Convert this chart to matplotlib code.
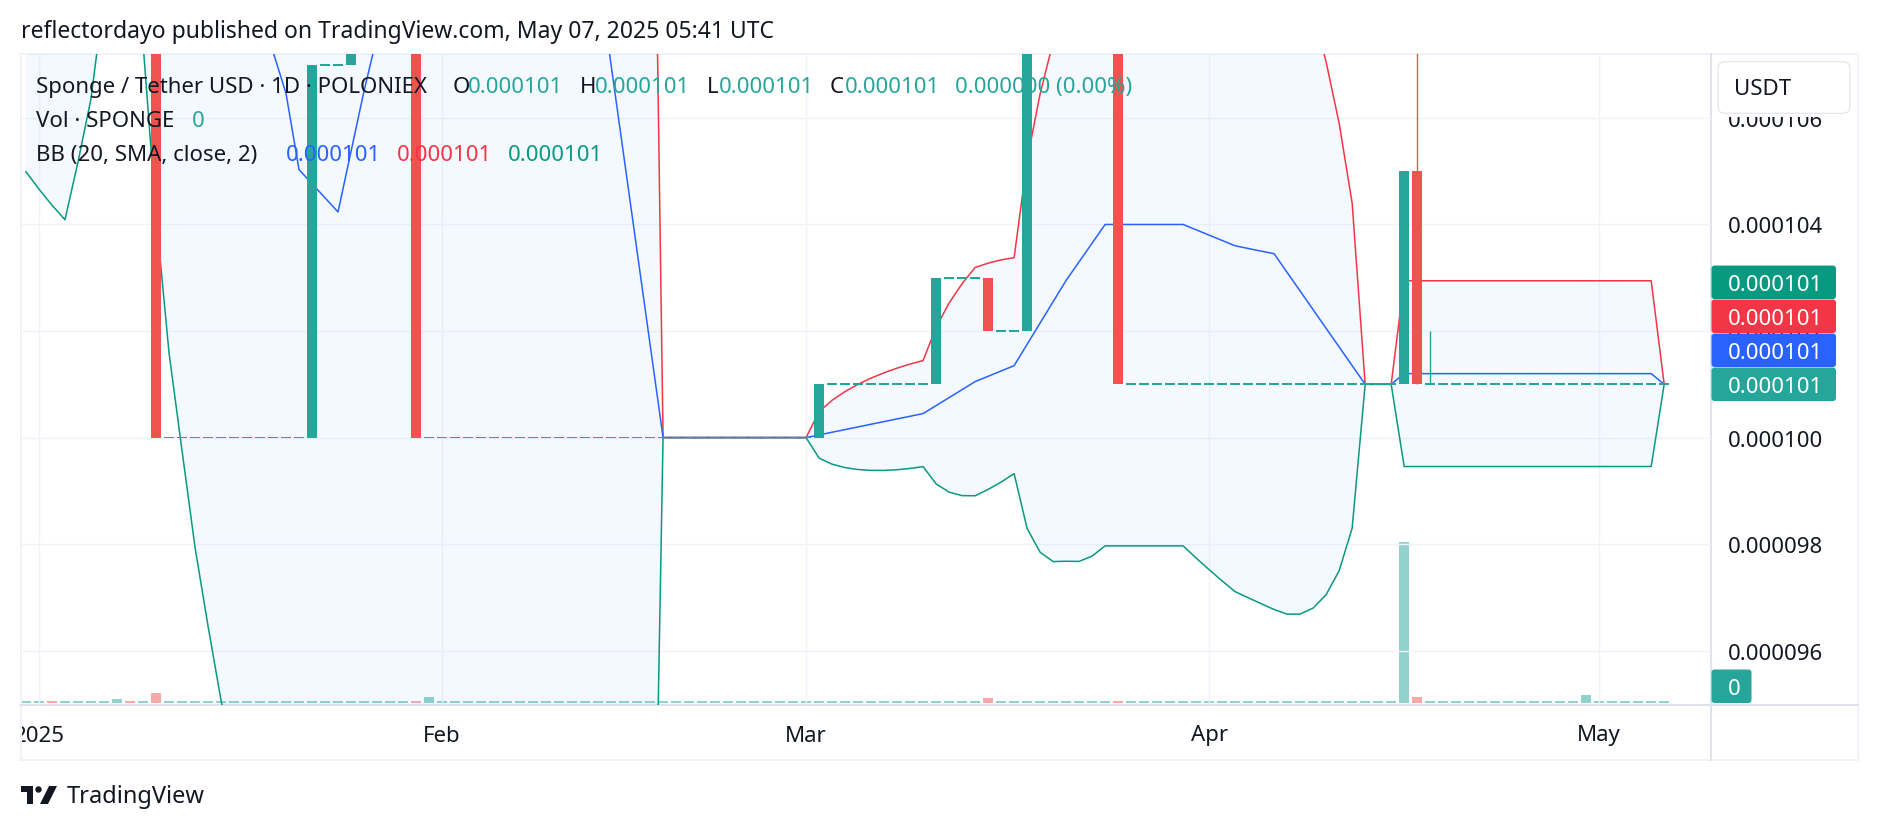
import numpy as np
import pandas as pd
import matplotlib
matplotlib.use("Agg")
import matplotlib.pyplot as plt
import matplotlib.transforms as mtransforms
from matplotlib.patches import FancyBboxPatch, Polygon, Circle, Rectangle
from matplotlib.lines import Line2D

plt.rcParams['font.family'] = ['Noto Sans', 'DejaVu Sans']

# ---------------- data ----------------
# daily closes (USDT) as (close, number of consecutive days), starting 2024-12-12
first_day = "2024-12-12"
close_runs = [
    (0.0001081, 1), (0.0001171, 1), (0.0001167, 1), (0.0001058, 2), (0.0001040, 1),
    (0.0001168, 3), (0.0001156, 1), (0.0001171, 1), (0.0001100, 1), (0.0001202, 1),
    (0.0001206, 1), (0.0001171, 1), (0.0001166, 3), (0.0001157, 2),          # Dec 2024
    (0.0001286, 1), (0.0001123, 5), (0.0001145, 1), (0.0001123, 2),          # Jan 1-9
    (0.0001000, 12), (0.0001070, 3), (0.0001350, 5), (0.0001000, 31),        # Jan 10 - Mar 1
    (0.0001010, 9), (0.0001030, 4), (0.0001020, 3), (0.0001080, 7),          # Mar 2 - Mar 24
    (0.0001010, 22), (0.0001050, 1), (0.0001010, 20),                        # Mar 25 - May 6
]
wick_highs = {"2025-04-17": 0.000112, "2025-04-18": 0.000102}

volume_start = "2024-12-31"
volume_end = "2025-05-06"
volume_spikes = {"2025-01-07": 4.3, "2025-01-10": 10, "2025-01-31": 6, "2025-03-15": 5.3,
                 "2025-04-16": 161, "2025-04-17": 6, "2025-04-30": 7.7}

price_ticks = [0.000096, 0.000098, 0.000100, 0.000102, 0.000104, 0.000106]
month_ticks = ["2025-01-01", "2025-02-01", "2025-03-01", "2025-04-01", "2025-05-01"]
month_labels = ["2025", "Feb", "Mar", "Apr", "May"]

title = "reflectordayo published on TradingView.com, May 07, 2025 05:41 UTC"
symbol = "Sponge / Tether USD · 1D · POLONIEX"

# ---------------- computations ----------------
closes = np.concatenate([np.repeat(v, n) for v, n in close_runs])
dates = pd.date_range(first_day, periods=len(closes), freq="D")
opens = np.r_[closes[0], closes[:-1]]
highs = np.maximum(opens, closes)
lows = np.minimum(opens, closes)
for d, h in wick_highs.items():
    highs[dates.get_loc(pd.Timestamp(d))] = h
s = pd.Series(closes, index=dates)
basis = s.rolling(20).mean()
sd = s.rolling(20).std(ddof=0)
upper = basis + 2 * sd
lower = basis - 2 * sd

vdates = pd.date_range(volume_start, volume_end, freq="D")
volume = pd.Series(0.0, index=vdates)
for d, v in volume_spikes.items():
    volume[pd.Timestamp(d)] = v

UP, DOWN = "#26a69a", "#ef5350"
UPV, DOWNV = "#92d2cc", "#f7a9a7"
TXT = "#131722"
BLUE, RED, GREEN = "#2962FF", "#F23645", "#089981"
GRID = "#f0f3fa"
SEP = "#e0e3eb"

W, H, DPI = 1878, 830, 100
fig = plt.figure(figsize=(W / DPI, H / DPI), dpi=DPI)
fig.patch.set_facecolor("white")
ID = mtransforms.IdentityTransform()

L0, R0, T0, B0 = 20, 1711, 54, 705


def fbox(x0, y0, x1, y1):
    return [x0 / W, 1 - y1 / H, (x1 - x0) / W, (y1 - y0) / H]


axv = fig.add_axes(fbox(L0, T0, R0, B0))
ax = fig.add_axes(fbox(L0, T0, R0, B0), sharex=axv)
ax.patch.set_visible(False)
ax.set_zorder(2)
axv.set_zorder(1)

ymin, ymax = 0.00009498, 0.00010720
jan1 = pd.Timestamp("2025-01-01")
ax.set_xlim(jan1 - pd.Timedelta(days=1.46), jan1 + pd.Timedelta(days=128.6))
ax.set_ylim(ymin, ymax)
ax.set_axis_off()
axv.set_axis_off()

# grid
for t in price_ticks:
    ax.axhline(t, color=GRID, lw=1.0, zorder=0)
for m in month_ticks:
    ax.axvline(pd.Timestamp(m), color=GRID, lw=1.0, zorder=0)

# volume
vcl = s.reindex(vdates)
vop = pd.Series(opens, index=dates).reindex(vdates)
vcol = [DOWNV if c < o else UPV for c, o in zip(vcl, vop)]
axv.set_ylim(-2, 649)
axv.bar(vdates, np.maximum(volume.values, 2.0), width=0.8, color=vcol, lw=0)

# Bollinger Bands
ax.fill_between(dates, lower, upper, color="#2196F3", alpha=0.05, lw=0, zorder=1)
ax.plot(dates, upper, color=RED, lw=1.1, zorder=3)
ax.plot(dates, basis, color=BLUE, lw=1.1, zorder=3)
ax.plot(dates, lower, color=GREEN, lw=1.1, zorder=3)

# candles
px_per_price = (B0 - T0) / (ymax - ymin)
min_body = 1.7 / px_per_price
flat = np.isclose(opens, closes, rtol=0, atol=1e-9)
bottoms = np.where(flat, closes - min_body / 2, np.minimum(opens, closes))
heights = np.where(flat, min_body, np.abs(closes - opens))
ccol = [DOWN if c < o else UP for c, o in zip(closes, opens)]
ax.bar(dates, heights, bottom=bottoms, width=0.77, color=ccol, lw=0, zorder=5)
wm = (highs > np.maximum(opens, closes)) | (lows < np.minimum(opens, closes))
ax.vlines(dates[wm], lows[wm], highs[wm], colors=np.array(ccol)[wm], lw=1.0, zorder=4.5)

# time axis labels
axt = fig.add_axes(fbox(L0, B0, R0, 760), sharex=ax)
axt.set_axis_off()
for m, lab in zip(month_ticks, month_labels):
    axt.text(pd.Timestamp(m), (760 - 741.5) / 55, lab, transform=axt.get_xaxis_transform(),
             ha="center", va="baseline", fontsize=16, color=TXT, clip_on=True,
             fontweight="bold" if lab == "2025" else "normal")

# price scale labels
ptrans = mtransforms.blended_transform_factory(ID, ax.transData) + \
    mtransforms.Affine2D().translate(0, -9)
for t in price_ticks:
    fig.text(1728, t, f"{t:.6f}", transform=ptrans, ha="left", va="baseline",
             fontsize=16, color=TXT)


def hline(y, x0, x1, c, lw):
    fig.add_artist(Line2D([x0, x1], [H - y, H - y], transform=ID, color=c, lw=lw))


def vline(x, y0, y1, c, lw):
    fig.add_artist(Line2D([x, x], [H - y0, H - y1], transform=ID, color=c, lw=lw))


hline(53.5, 20, 1858, GRID, 1.4)
hline(760, 20, 1858, GRID, 1.4)
vline(20.5, 53.5, 760, GRID, 1.4)
vline(1857.5, 53.5, 760, GRID, 1.4)
hline(705, 20, 1858, SEP, 1.4)
vline(1711, 53.5, 760, SEP, 1.4)

# USDT button (covers the top of the price scale)
fig.add_artist(Rectangle((1712.5, H - 116.5), 144, 62, transform=ID, fc="white", ec="none", zorder=9))
fig.add_artist(FancyBboxPatch((1718, H - 113.3), 132, 51.6, boxstyle="round,pad=0,rounding_size=7",
                              transform=ID, fc="white", ec=SEP, lw=0.8, zorder=10))
fig.text(1763, H - 95, "USDT", transform=ID, ha="center", va="baseline", fontsize=16,
         color=TXT, zorder=11)

# last-value tags
last = closes[-1]
yc = ax.transData.transform((0, last))[1]
tags = [(UP, last), (BLUE, basis.iloc[-1]), (RED, upper.iloc[-1]), (GREEN, lower.iloc[-1])]
for i, (c, v) in enumerate(tags):
    cy = yc + 34 * i
    fig.add_artist(FancyBboxPatch((1711.5, cy - 16.75), 124.5, 33.5,
                                  boxstyle="round,pad=0,rounding_size=3",
                                  transform=ID, fc=c, ec="none", zorder=10))
    fig.text(1728, cy - 8.3, f"{v:.6f}", transform=ID, ha="left", va="baseline",
             fontsize=16, color="white", zorder=11)
vy0 = axv.transData.transform((0, 0))[1]
fig.add_artist(FancyBboxPatch((1711.5, vy0), 40, 33.5, boxstyle="round,pad=0,rounding_size=3",
                              transform=ID, fc=UP, ec="none", zorder=10))
fig.text(1728, vy0 + 8.5, f"{volume.iloc[-1]:.0f}", transform=ID, ha="left", va="baseline",
         fontsize=16, color="white", zorder=11)

# title & legend
fig.text(21, H - 37.5, title, transform=ID, ha="left", va="baseline", fontsize=16.5, color=TXT)
legend = [
    (92.5, [(36, symbol, TXT), (453, "O", TXT), (468, f"{opens[-1]:.6f}", UP),
            (580, "H", TXT), (595, f"{highs[-1]:.6f}", UP), (707, "L", TXT),
            (719, f"{lows[-1]:.6f}", UP), (830, "C", TXT), (845, f"{closes[-1]:.6f}", UP),
            (955, f"{closes[-1] - opens[-1]:.6f} (0.00%)", UP)]),
    (126.7, [(36, "Vol · SPONGE", TXT), (192, f"{volume.iloc[-1]:.0f}", UP)]),
    (160.7, [(36, "BB (20, SMA, close, 2)", TXT), (286, f"{basis.iloc[-1]:.6f}", BLUE),
             (397, f"{upper.iloc[-1]:.6f}", RED), (508, f"{lower.iloc[-1]:.6f}", GREEN)]),
]
for y, parts in legend:
    for x, t, c in parts:
        fig.text(x, H - y, t, transform=ID, ha="left", va="baseline", fontsize=16,
                 color=c, zorder=20)

# TradingView logo
fig.add_artist(Polygon([(21, H - 786), (33, H - 786), (33, H - 804), (27, H - 804),
                        (27, H - 792), (21, H - 792)], closed=True, transform=ID, fc=TXT, ec="none"))
fig.add_artist(Circle((38.5, H - 789.5), 3.2, transform=ID, fc=TXT, ec="none"))
fig.add_artist(Polygon([(49, H - 786), (57, H - 786), (48, H - 804), (40, H - 804)],
                       closed=True, transform=ID, fc=TXT, ec="none"))
fig.text(67, H - 803, "TradingView", transform=ID, ha="left", va="baseline", fontsize=17,
         fontweight="semibold", color=TXT)

fig.savefig("out.png", dpi=DPI)
